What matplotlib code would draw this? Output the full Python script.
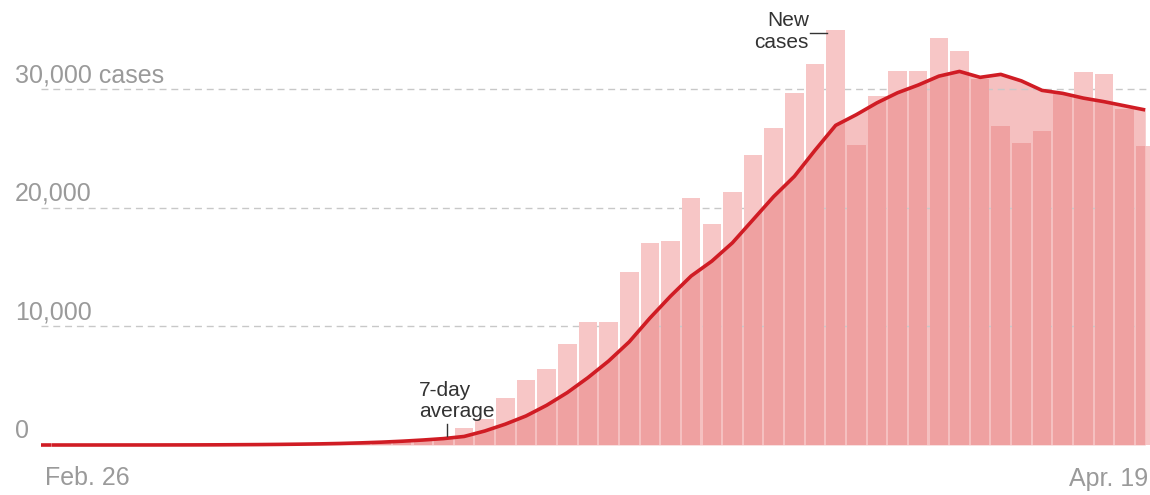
import numpy as np
import matplotlib.pyplot as plt
from matplotlib.transforms import blended_transform_factory

# Daily new cases, Feb. 26 to Apr. 19
new_cases = [
    0, 0, 1, 3, 5, 6, 12, 18, 30, 45,
    50, 70, 90, 120, 160, 210, 270, 350, 440, 560,
    1400, 2200, 4000, 5500, 6450, 8500, 10400, 10400, 14550, 17000,
    17200, 20800, 18600, 21350, 24450, 26700, 29650, 32100, 35000, 25300,
    29400, 31550, 31550, 34350, 33250, 30900, 26900, 25500, 26450, 29600,
    31450, 31300, 28300, 25200,
]

# 7-day average line
avg_7day = [
    0, 0, 0, 1, 2, 3, 6, 9, 15, 25,
    35, 50, 70, 95, 130, 180, 240, 320, 420, 540,
    720, 1180, 1760, 2450, 3350, 4420, 5680, 7080, 8700, 10700,
    12550, 14250, 15500, 17050, 19000, 20950, 22650, 24850, 26950, 27850,
    28850, 29700, 30350, 31100, 31500, 31000, 31250, 30700, 29900, 29650,
    29250, 28950, 28600, 28250,
]

grid_values = [10000, 20000, 30000]
grid_labels = ["10,000", "20,000", "30,000 cases"]
first_label = "Feb. 26"
last_label = "Apr. 19"

plt.rcParams["font.family"] = ["Liberation Sans", "DejaVu Sans"]

x = np.arange(len(new_cases))

fig = plt.figure(figsize=(11.5, 4.95), dpi=100)
ax = fig.add_axes([0, 0, 1, 1])

# pixel layout of the reference: one day = 20.64 px, bar 0 starts at px 41
px_day = 20.64
left_px = 41
ax.set_xlim(-0.5 - left_px / px_day, -0.5 + (1150 - left_px) / px_day)
px_unit = 118.6 / 10000
ax.set_ylim(-50 / px_unit, 445 / px_unit)
ax.axis("off")

light = "#f7c6c6"
dark = "#efa1a1"
fill_col = "#f5c0c0"
red = "#d01c24"

# area under the average
fill = ax.fill_between(x, avg_7day, 0, color=fill_col, lw=0, zorder=1)

# dashed gridlines
ax.hlines(grid_values, -0.5, ax.get_xlim()[1], colors="#c8c8c8",
          linestyles=(0, (5, 3.5)), lw=1.0, zorder=2)

# bars, light where above the average, darker inside the area
ax.bar(x, new_cases, width=0.9, color=light, lw=0, zorder=3)
dark_bars = ax.bar(x, new_cases, width=0.9, color=dark, lw=0, zorder=4)
clip = fill.get_paths()[0]
for p in dark_bars:
    p.set_clip_path(clip, ax.transData)

# the flat start of the line runs from the left edge of the first bar
ax.plot([-0.5, 0], [avg_7day[0], avg_7day[0]], color=red, lw=2.6, zorder=5,
        solid_capstyle="butt")
ax.plot(x, avg_7day, color=red, lw=2.6, zorder=5, solid_capstyle="butt")

# y labels
trans = blended_transform_factory(fig.transFigure, ax.transData)
for v, lab in zip([0] + grid_values, ["0"] + grid_labels):
    ax.text(15 / 1150, v + 7 / px_unit, lab, transform=trans, ha="left",
            va="baseline", fontsize=18, color="#9a9a9a")

# date labels
ax.text(45 / 1150, -40 / px_unit, first_label, transform=trans, ha="left",
        va="baseline", fontsize=18, color="#9a9a9a")
ax.text(1148 / 1150, -41 / px_unit, last_label, transform=trans, ha="right",
        va="baseline", fontsize=18, color="#9a9a9a")

# annotations
ax.text(17.8, 4100, "7-day", ha="left", va="baseline", fontsize=15, color="#333333")
ax.text(17.8, 2400, "average", ha="left", va="baseline", fontsize=15, color="#333333")
ax.plot([19.15, 19.15], [avg_7day[19] + 250, 1800], color="#333333", lw=1.0, zorder=6)

ax.text(36.7, 35300, "New", ha="right", va="baseline", fontsize=15, color="#333333")
ax.text(36.7, 33500, "cases", ha="right", va="baseline", fontsize=15, color="#333333")
ax.plot([36.75, 37.6], [34700, 34700], color="#333333", lw=1.0, zorder=6)

fig.savefig("out.png", dpi=100)
